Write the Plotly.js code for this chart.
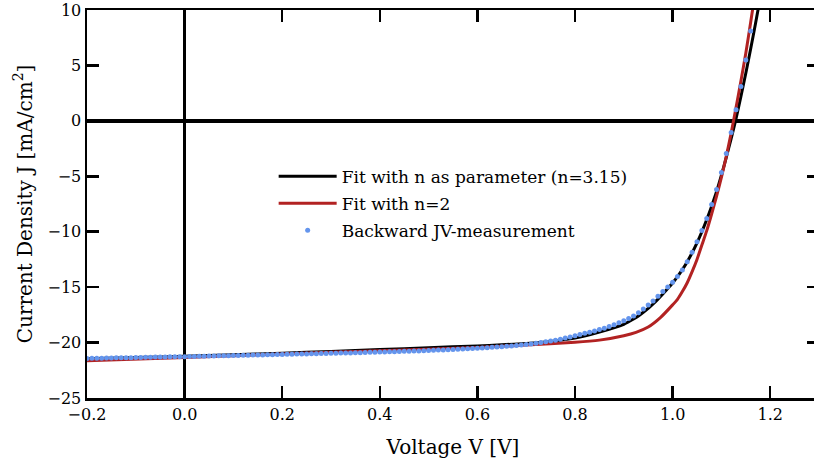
<!DOCTYPE html>
<html>
<head>
<meta charset="utf-8">
<script src="https://cdn.plot.ly/plotly-3.0.1.min.js"></script>
<style>
html,body{margin:0;padding:0;overflow:hidden;background:#fff;}
#chart{width:830px;height:465px;}
</style>
</head>
<body>
<div id="chart"></div>
<script>
// Backward JV-measurement (V, J)
const measV = [-0.20,-0.19,-0.18,-0.17,-0.16,-0.15,-0.14,-0.13,-0.12,-0.11,-0.10,-0.09,-0.08,-0.07,-0.06,-0.05,-0.04,-0.03,-0.02,-0.01,
0.00,0.01,0.02,0.03,0.04,0.05,0.06,0.07,0.08,0.09,0.10,0.11,0.12,0.13,0.14,0.15,0.16,0.17,0.18,0.19,
0.20,0.21,0.22,0.23,0.24,0.25,0.26,0.27,0.28,0.29,0.30,0.31,0.32,0.33,0.34,0.35,0.36,0.37,0.38,0.39,
0.40,0.41,0.42,0.43,0.44,0.45,0.46,0.47,0.48,0.49,0.50,0.51,0.52,0.53,0.54,0.55,0.56,0.57,0.58,0.59,
0.60,0.61,0.62,0.63,0.64,0.65,0.66,0.67,0.68,0.69,0.70,0.71,0.72,0.73,0.74,0.75,0.76,0.77,0.78,0.79,
0.80,0.81,0.82,0.83,0.84,0.85,0.86,0.87,0.88,0.89,0.90,0.91,0.92,0.93,0.94,0.95,0.96,0.97,0.98,0.99,
1.00,1.01,1.02,1.03,1.04,1.05,1.06,1.07,1.08,1.09,1.10,1.11,1.12,1.13,1.14,1.15,1.16];
const measJ = [-21.43,-21.42,-21.41,-21.41,-21.40,-21.39,-21.38,-21.37,-21.37,-21.36,-21.35,-21.34,-21.33,-21.32,-21.31,-21.31,-21.30,-21.29,-21.28,-21.27,
-21.27,-21.26,-21.25,-21.24,-21.23,-21.22,-21.21,-21.20,-21.19,-21.18,-21.17,-21.16,-21.15,-21.14,-21.13,-21.12,-21.11,-21.10,-21.09,-21.08,
-21.07,-21.06,-21.05,-21.04,-21.03,-21.02,-21.01,-21.00,-20.99,-20.98,-20.97,-20.96,-20.95,-20.94,-20.93,-20.92,-20.91,-20.90,-20.88,-20.87,
-20.86,-20.85,-20.83,-20.82,-20.81,-20.79,-20.78,-20.76,-20.75,-20.73,-20.71,-20.70,-20.68,-20.66,-20.64,-20.62,-20.60,-20.58,-20.56,-20.53,
-20.51,-20.48,-20.46,-20.43,-20.40,-20.37,-20.34,-20.30,-20.26,-20.22,-20.17,-20.12,-20.06,-20.00,-19.93,-19.86,-19.78,-19.69,-19.59,-19.49,
-19.38,-19.27,-19.17,-19.07,-18.96,-18.83,-18.70,-18.55,-18.40,-18.22,-18.04,-17.82,-17.60,-17.32,-16.98,-16.62,-16.24,-15.83,-15.40,-14.98,
-14.55,-14.05,-13.45,-12.72,-11.85,-10.90,-9.90,-8.80,-7.55,-6.20,-4.65,-2.95,-1.05,1.00,3.10,5.50,8.10];

// Fit with n as parameter (n=3.15)
const fit1V = [-0.20,-0.10,0.00,0.10,0.20,0.30,0.40,0.50,0.60,0.65,0.70,0.75,0.80,0.85,0.90,0.91,0.92,0.93,0.94,0.95,0.96,0.97,0.98,0.99,1.00,1.01,1.02,1.03,1.04,1.05,1.06,1.07,1.08,1.09,1.10,1.11,1.12,1.13,1.14,1.15,1.16,1.17,1.18];
const fit1J = [-21.45,-21.35,-21.23,-21.10,-20.96,-20.80,-20.63,-20.47,-20.30,-20.20,-20.08,-19.90,-19.60,-19.05,-18.35,-18.12,-17.88,-17.60,-17.27,-16.92,-16.52,-16.08,-15.62,-15.13,-14.62,-14.05,-13.42,-12.70,-11.90,-11.00,-10.00,-8.90,-7.70,-6.40,-4.90,-3.30,-1.60,0.20,2.20,4.30,6.50,8.80,11.20];

// Fit with n=2
const fit2V = [-0.20,0.00,0.20,0.40,0.60,0.70,0.80,0.85,0.90,0.925,0.95,0.975,1.00,1.01,1.02,1.03,1.04,1.05,1.06,1.07,1.08,1.09,1.10,1.11,1.12,1.13,1.14,1.15,1.16,1.17];
const fit2J = [-21.65,-21.35,-21.03,-20.73,-20.44,-20.22,-19.98,-19.78,-19.38,-19.08,-18.60,-17.75,-16.60,-16.10,-15.40,-14.60,-13.60,-12.50,-11.20,-9.90,-8.40,-6.80,-5.10,-3.20,-1.10,1.20,3.60,6.10,8.90,11.80];

const names = ['Fit with n as parameter (n=3.15)','Fit with n=2','Backward JV-measurement'];
const xTicks = [-0.2,0.0,0.2,0.4,0.6,0.8,1.0,1.2];
const yTicks = [-25,-20,-15,-10,-5,0,5,10];

const FONT = "'DejaVu Serif', serif";

const traces = [
  {x: fit1V, y: fit1J, mode:'lines', name:names[0], legendgroup:'a',
   line:{color:'#000000', width:3, shape:'spline', smoothing:0.6}},
  {x: fit2V, y: fit2J, mode:'lines', name:names[1], legendgroup:'b',
   line:{color:'#b22222', width:3, shape:'spline', smoothing:0.6}},
  {x: measV, y: measJ, mode:'markers', name:names[2], legendgroup:'c',
   marker:{color:'#6495ed', size:5}}
];

const axisCommon = {
  showgrid:false, showline:true, linecolor:'#000', linewidth:2.5, mirror:'ticks',
  ticks:'inside', ticklen:12, tickwidth:2.5, tickcolor:'#000',
  zeroline:true, zerolinecolor:'#000', zerolinewidth:3.5,
  tickfont:{family:FONT, size:16, color:'#000'}
};

const layout = {
  width:830, height:465,
  margin:{l:87, r:11, t:10, b:67},
  paper_bgcolor:'#fff', plot_bgcolor:'#fff',
  font:{family:FONT, color:'#000'},
  showlegend:true,
  legend:{x:0.255, y:0.617, xanchor:'left', yanchor:'top', bgcolor:'rgba(0,0,0,0)',
    font:{family:FONT, size:17, color:'#000'}, tracegroupgap:2, itemwidth:58},
  xaxis: Object.assign({}, axisCommon, {
    range:[-0.2,1.3], tickvals:xTicks, ticktext:xTicks.map(v=>(v<0?'\u2212':'')+Math.abs(v).toFixed(1)),
    title:{text:'Voltage V [V]', font:{family:FONT, size:20, color:'#000'}, standoff:18}
  }),
  yaxis: Object.assign({}, axisCommon, {
    range:[-25,10], tickvals:yTicks, ticktext:yTicks.map(v=>(v<0?'\u2212':'')+Math.abs(v)),
    title:{text:'Current Density J [mA/cm<sup>2</sup>]', font:{family:FONT, size:20, color:'#000'}, standoff:10}
  })
};

Plotly.newPlot('chart', traces, layout, {displayModeBar:false, staticPlot:true});
</script>
</body>
</html>
